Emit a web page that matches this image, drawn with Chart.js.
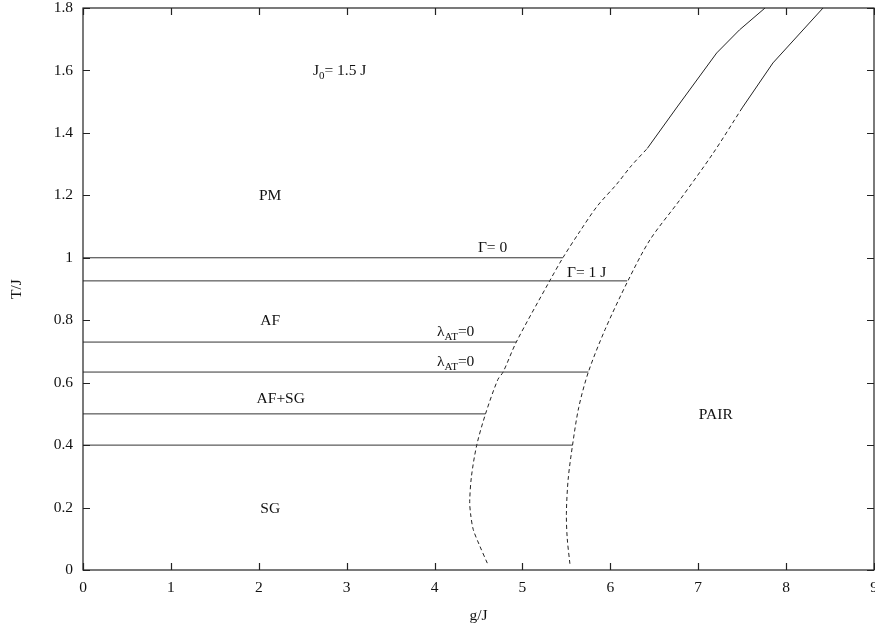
<!DOCTYPE html>
<html>
<head>
<meta charset="utf-8">
<script src="https://cdn.jsdelivr.net/npm/chart.js@4"></script>
<style>
  html, body { margin: 0; padding: 0; background: #fff; }
  #wrap { width: 875px; height: 628px; }
</style>
</head>
<body>
<div id="wrap"><canvas id="phase"></canvas></div>
<script>
// --- data ---
var xTicks = [0, 1, 2, 3, 4, 5, 6, 7, 8, 9];
var yTicks = [0, 0.2, 0.4, 0.6, 0.8, 1, 1.2, 1.4, 1.6, 1.8];

// horizontal transition lines, from g/J = 0 to the end value
var flatT = [1.0, 0.926, 0.73, 0.634, 0.5, 0.4];
var flatEndG = [5.46, 6.19, 4.93, 5.75, 4.58, 5.57];

// left boundary (Gamma = 0)
var leftDashG = [4.60, 4.51, 4.44, 4.41, 4.40, 4.42, 4.48, 4.58, 4.72, 4.78, 4.93, 5.31, 5.46, 5.65, 5.85, 6.07, 6.24, 6.42];
var leftDashT = [0.022, 0.08, 0.13, 0.18, 0.22, 0.30, 0.40, 0.50, 0.61, 0.634, 0.73, 0.926, 1.0, 1.083, 1.165, 1.235, 1.295, 1.35];
var leftSolidG = [6.42, 6.76, 7.21, 7.47, 7.76];
var leftSolidT = [1.35, 1.483, 1.656, 1.73, 1.80];

// right boundary (Gamma = 1 J)
var rightDashG = [5.54, 5.51, 5.50, 5.52, 5.57, 5.64, 5.75, 5.94, 6.20, 6.45, 6.79, 7.17, 7.50];
var rightDashT = [0.02, 0.10, 0.18, 0.29, 0.40, 0.52, 0.634, 0.77, 0.926, 1.057, 1.185, 1.335, 1.48];
var rightSolidG = [7.50, 7.85, 8.42];
var rightSolidT = [1.48, 1.624, 1.80];

function pts(gs, ts) {
  return gs.map(function(g, i) { return { x: g, y: ts[i] }; });
}

var ink = '#222';
var dash = [4, 3];

var datasets = [];
flatT.forEach(function(t, i) {
  datasets.push({ data: [{ x: 0, y: t }, { x: flatEndG[i], y: t }], borderColor: '#333', borderWidth: 1, tension: 0 });
});
datasets.push({ data: pts(leftDashG, leftDashT), borderColor: ink, borderWidth: 1, borderDash: dash, tension: 0.3 });
datasets.push({ data: pts(leftSolidG, leftSolidT), borderColor: ink, borderWidth: 1, tension: 0 });
datasets.push({ data: pts(rightDashG, rightDashT), borderColor: ink, borderWidth: 1, borderDash: dash, tension: 0.3 });
datasets.push({ data: pts(rightSolidG, rightSolidT), borderColor: ink, borderWidth: 1, tension: 0 });
datasets.forEach(function(d) {
  d.showLine = true; d.pointRadius = 0; d.fill = false;
});

// labels in data coordinates; parts with sub=true are subscripts
var labels = [
  { x: 2.92, y: 1.60, parts: [{ t: 'J' }, { t: '0', sub: true }, { t: '= 1.5 J' }] },
  { x: 2.13, y: 1.20, parts: [{ t: 'PM' }] },
  { x: 2.13, y: 0.80, parts: [{ t: 'AF' }] },
  { x: 2.25, y: 0.55, parts: [{ t: 'AF+SG' }] },
  { x: 2.13, y: 0.20, parts: [{ t: 'SG' }] },
  { x: 7.20, y: 0.50, parts: [{ t: 'PAIR' }] },
  { x: 4.66, y: 1.035, parts: [{ t: '\u0393= 0' }] },
  { x: 5.73, y: 0.955, parts: [{ t: '\u0393= 1 J' }] },
  { x: 4.24, y: 0.765, parts: [{ t: '\u03bb' }, { t: 'AT', sub: true }, { t: '=0' }] },
  { x: 4.24, y: 0.668, parts: [{ t: '\u03bb' }, { t: 'AT', sub: true }, { t: '=0' }] }
];

var serif = '"Liberation Serif", "DejaVu Serif", serif';
var fs = 15.5;

// frame with inward ticks on all four sides + text labels
var framePlugin = {
  id: 'frame',
  afterDatasetsDraw: function(chart) {
    var ctx = chart.ctx, a = chart.chartArea;
    var xs = chart.scales.x, ys = chart.scales.y;
    ctx.save();
    ctx.strokeStyle = '#222';
    ctx.lineWidth = 1.2;
    ctx.strokeRect(a.left, a.top, a.right - a.left, a.bottom - a.top);
    ctx.beginPath();
    xTicks.forEach(function(v) {
      var px = Math.round(xs.getPixelForValue(v)) + 0.5;
      ctx.moveTo(px, a.bottom); ctx.lineTo(px, a.bottom - 7);
      ctx.moveTo(px, a.top); ctx.lineTo(px, a.top + 7);
    });
    yTicks.forEach(function(v) {
      var py = Math.round(ys.getPixelForValue(v)) + 0.5;
      ctx.moveTo(a.left, py); ctx.lineTo(a.left + 7, py);
      ctx.moveTo(a.right, py); ctx.lineTo(a.right - 7, py);
    });
    ctx.stroke();

    ctx.fillStyle = '#111';
    ctx.textBaseline = 'alphabetic';
    labels.forEach(function(l) {
      var w = 0;
      l.parts.forEach(function(p) {
        ctx.font = (p.sub ? '11px ' : fs + 'px ') + serif;
        p.w = ctx.measureText(p.t).width;
        w += p.w;
      });
      var cx = xs.getPixelForValue(l.x) - w / 2;
      var cy = ys.getPixelForValue(l.y) + 5;
      l.parts.forEach(function(p) {
        ctx.font = (p.sub ? '11px ' : fs + 'px ') + serif;
        ctx.fillText(p.t, cx, p.sub ? cy + 4 : cy);
        cx += p.w;
      });
    });
    ctx.restore();
  }
};

var ctx = document.getElementById('phase').getContext('2d');

var phaseChart = new Chart(ctx, {
  type: 'scatter',
  data: { datasets: datasets },
  plugins: [framePlugin],
  options: {
    responsive: true,
    maintainAspectRatio: false,
    animation: false,
    layout: { padding: { top: 8, right: 1, left: 0, bottom: 0 } },
    plugins: {
      legend: { display: false },
      tooltip: { enabled: false }
    },
    scales: {
      x: {
        type: 'linear', min: 0, max: 9,
        afterBuildTicks: function(s) { s.ticks = xTicks.map(function(v) { return { value: v }; }); },
        afterFit: function(s) { s.height = 58; s.paddingLeft = 0; s.paddingRight = 0; },
        grid: { display: false, drawTicks: false },
        border: { display: false },
        ticks: { color: '#111', font: { family: serif, size: fs }, padding: 9, maxRotation: 0,
                 callback: function(v) { return String(v); } },
        title: { display: true, text: 'g/J', color: '#111', font: { family: serif, size: fs }, padding: { top: 0, bottom: 3 } }
      },
      y: {
        type: 'linear', min: 0, max: 1.8,
        afterBuildTicks: function(s) { s.ticks = yTicks.map(function(v) { return { value: v }; }); },
        afterFit: function(s) { s.width = 83; s.paddingTop = 0; s.paddingBottom = 0; },
        grid: { display: false, drawTicks: false },
        border: { display: false },
        ticks: { color: '#111', font: { family: serif, size: fs }, padding: 10,
                 callback: function(v) { return String(Math.round(v * 10) / 10); } },
        title: { display: true, text: 'T/J', color: '#111', font: { family: serif, size: fs }, padding: { top: 8, bottom: 0 } }
      }
    }
  }
});
</script>
</body>
</html>
